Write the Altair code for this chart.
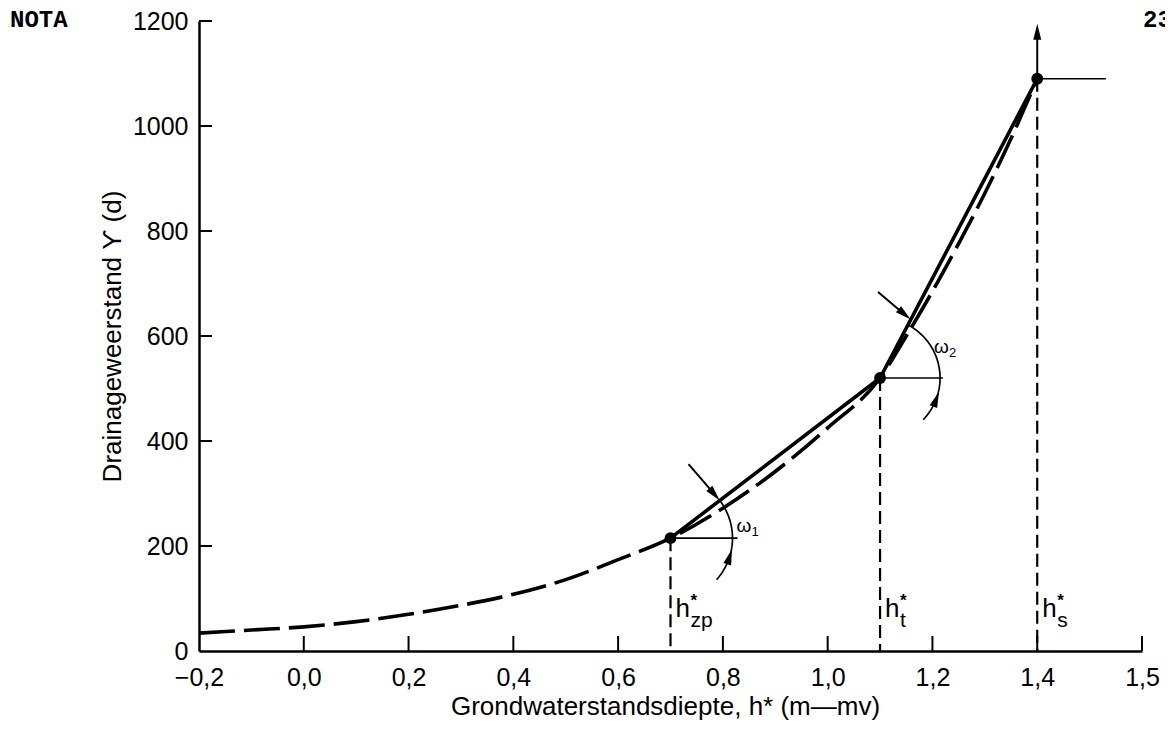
import math
import numpy as np
import pandas as pd
import altair as alt

# ---------------- data ----------------
curve_x = [-0.2, -0.1, 0.0, 0.1, 0.2, 0.3, 0.4, 0.5, 0.6, 0.7, 0.8, 0.9, 1.0,
           1.1, 1.15, 1.2, 1.25, 1.3, 1.35, 1.4]
curve_y = [34, 40, 46, 56, 70, 87, 108, 136, 174, 215, 272, 342, 425,
           520, 600, 685, 776, 872, 976, 1090]

point_x = [0.7, 1.1, 1.4]
point_y = [215, 520, 1090]
point_sub = ["zp", "t", "s"]
hline_end_x = [0.828, 1.22, 1.531]
top_arrow_tip_y = 1195

x_tick_values = [-0.2, 0.0, 0.2, 0.4, 0.6, 0.8, 1.0, 1.2, 1.4, 1.6]
x_tick_labels = ["−0,2", "0,0", "0,2", "0,4", "0,6", "0,8", "1,0", "1,2", "1,4", "1,5"]
y_tick_values = [0, 200, 400, 600, 800, 1000, 1200]

x_title = "Grondwaterstandsdiepte, h* (m—mv)"
y_title = "Drainageweerstand ϒ (d)"
corner_left = "NOTA"
corner_right = "23"
omega_names = ["1", "2"]

# ---------------- layout / style ----------------
TOP = 13
W, H = 943, 630
XMIN, XMAX = -0.2, 1.6
YMIN, YMAX = 0, 1200
PXX = W / (XMAX - XMIN)
PXY = H / (YMAX - YMIN)
FONT = "Liberation Sans"
HEAD_LEN = 16
HEAD_SHAPE = "M0,-1L0.5,1L-0.5,1Z"

xscale = alt.Scale(domain=[XMIN, XMAX], nice=False, zero=False)
yscale = alt.Scale(domain=[YMIN, YMAX], nice=False, zero=False)

label_expr = "''"
for v, l in reversed(list(zip(x_tick_values, x_tick_labels))):
    label_expr = f"abs(datum.value - ({v})) < 1e-6 ? '{l}' : ({label_expr})"

common_axis = dict(ticks=False, tickSize=0, grid=False, domainColor="black",
                   domainWidth=2.5, labelFont=FONT, labelFontSize=25,
                   labelColor="black", labelFlush=False, labelOverlap=False,
                   titleFont=FONT, titleFontSize=26, titleFontWeight="normal",
                   titleColor="black", titleAlign="center",
                   titleBaseline="alphabetic")
xaxis = alt.Axis(values=x_tick_values, labelExpr=label_expr, title=x_title,
                 labelPadding=14, titleX=466, titleY=63, **common_axis)
yaxis = alt.Axis(values=y_tick_values, labelExpr="format(datum.value, 'd')",
                 title=y_title, labelPadding=11,
                 titleX=-79, titleY=H / 2, titleAngle=270, **common_axis)


def X(f):
    return alt.X(f, type="quantitative", scale=xscale, axis=xaxis)


def Y(f):
    return alt.Y(f, type="quantitative", scale=yscale, axis=yaxis)


def px_to_data(cx, cy, dxp, dyp):
    return cx + dxp / PXX, cy + dyp / PXY


curve_df = pd.DataFrame({"x": curve_x, "y": curve_y})
points_df = pd.DataFrame({"x": point_x, "y": point_y, "x_end": hline_end_x,
                          "sub": point_sub, "zero": [0] * len(point_x)})

# ---------------- angle annotations (geometry in px around the points) ----
angle_ann = [
    dict(c=0, r=62, end=-42, tail=(18, 74), tip_r=62, low_tip=-10, lab=(66, 12)),
    dict(c=1, r=60, end=-44, tail=(-2, 86), tip_r=66, low_tip=-13, lab=(54, 31)),
]
arc_rows, tail_rows, head_rows, omega_rows = [], [], [], []
for k, a in enumerate(angle_ann):
    c = a["c"]
    cx, cy = point_x[c], point_y[c]
    chord = math.degrees(math.atan2((point_y[c + 1] - cy) * PXY,
                                    (point_x[c + 1] - cx) * PXX))
    for j, ang in enumerate(np.linspace(chord, a["end"], 50)):
        px, py = px_to_data(cx, cy, a["r"] * math.cos(math.radians(ang)),
                            a["r"] * math.sin(math.radians(ang)))
        arc_rows.append({"x": px, "y": py, "arc": k, "k": j})
    # top arrow pointing at the intersection of arc and chord
    tipx = a["tip_r"] * math.cos(math.radians(chord))
    tipy = a["tip_r"] * math.sin(math.radians(chord))
    dx, dy = tipx - a["tail"][0], tipy - a["tail"][1]
    n = math.hypot(dx, dy)
    hcx, hcy = tipx - dx / n * HEAD_LEN / 2, tipy - dy / n * HEAD_LEN / 2
    x1, y1 = px_to_data(cx, cy, *a["tail"])
    x2, y2 = px_to_data(cx, cy, hcx, hcy)
    tail_rows.append({"x": x1, "y": y1, "x2": x2, "y2": y2})
    head_rows.append({"x": x2, "y": y2,
                      "ang": math.degrees(math.atan2(dx, dy)) % 360})
    # lower arrow head on the arc (pointing counter-clockwise)
    phic = a["low_tip"] - math.degrees(HEAD_LEN / 2 / a["r"])
    hx, hy = px_to_data(cx, cy, a["r"] * math.cos(math.radians(phic)),
                        a["r"] * math.sin(math.radians(phic)))
    head_rows.append({"x": hx, "y": hy, "ang": (-phic) % 360})
    ox, oy = px_to_data(cx, cy, *a["lab"])
    omega_rows.append({"x": ox, "y": oy, "n": omega_names[k]})

# vertical arrow at the last point
vy_head = top_arrow_tip_y - HEAD_LEN / 2 / PXY
head_rows.append({"x": point_x[-1], "y": vy_head, "ang": 0})
tail_rows.append({"x": point_x[-1], "y": point_y[-1], "x2": point_x[-1], "y2": vy_head})

arc_df = pd.DataFrame(arc_rows)
tail_df = pd.DataFrame(tail_rows)
head_df = pd.DataFrame(head_rows)
omega_df = pd.DataFrame(omega_rows)

# ---------------- layers ----------------
curve = alt.Chart(curve_df).mark_line(
    color="black", strokeWidth=3.6, strokeDash=[36, 9], interpolate="monotone"
).encode(x=X("x"), y=Y("y"))

chord = alt.Chart(points_df).mark_line(color="black", strokeWidth=3.6).encode(
    x=X("x"), y=Y("y"))

vdash = alt.Chart(points_df).mark_rule(
    color="black", strokeWidth=2.2, strokeDash=[13, 6]
).encode(x=X("x"), y=Y("y"), y2=alt.Y2("zero"))

hline = alt.Chart(points_df).mark_rule(color="black", strokeWidth=1.6).encode(
    x=X("x"), x2=alt.X2("x_end"), y=Y("y"))

dots = alt.Chart(points_df).mark_circle(size=140, color="black", opacity=1).encode(
    x=X("x"), y=Y("y"))

arcs = alt.Chart(arc_df).mark_line(color="black", strokeWidth=1.7).encode(
    x=X("x"), y=Y("y"), detail="arc:N", order="k:Q")

tails = alt.Chart(tail_df).mark_rule(color="black", strokeWidth=2).encode(
    x=X("x"), y=Y("y"), x2=alt.X2("x2"), y2=alt.Y2("y2"))

heads = alt.Chart(head_df).mark_point(
    shape=HEAD_SHAPE, filled=True, size=HEAD_LEN ** 2, color="black",
    opacity=1, strokeWidth=0
).encode(x=X("x"), y=Y("y"), angle=alt.Angle("ang:Q", scale=None))

xticks = alt.Chart(pd.DataFrame({"v": x_tick_values[1:]})).mark_rule(
    color="black", strokeWidth=2).encode(
    x=X("v"), y=alt.value(H), y2=alt.value(H - 15))

yticks = alt.Chart(pd.DataFrame({"v": y_tick_values[1:]})).mark_rule(
    color="black", strokeWidth=2).encode(
    y=Y("v"), x=alt.value(0), x2=alt.value(13))

h_main = alt.Chart(points_df).mark_text(
    font=FONT, fontSize=26, align="left", baseline="alphabetic", dx=5,
    color="black").encode(x=X("x"), y=alt.value(H - 34), text=alt.value("h"))
h_star = alt.Chart(points_df).mark_text(
    font=FONT, fontSize=17, align="left", baseline="alphabetic", dx=20,
    color="black", fontWeight="bold").encode(x=X("x"), y=alt.value(H - 45), text=alt.value("*"))
h_sub = alt.Chart(points_df).mark_text(
    font=FONT, fontSize=21, align="left", baseline="alphabetic", dx=20,
    color="black").encode(x=X("x"), y=alt.value(H - 24), text="sub:N")

omega = alt.Chart(omega_df).mark_text(
    font=FONT, fontSize=19, align="left", baseline="middle",
    color="black").encode(x=X("x"), y=Y("y"), text=alt.value("ω"))
omega_sub = alt.Chart(omega_df).mark_text(
    font=FONT, fontSize=13, align="left", baseline="middle", dx=15, dy=6,
    color="black").encode(x=X("x"), y=Y("y"), text="n:N")

corner_l = alt.Chart(pd.DataFrame({"t": [corner_left]})).mark_text(
    font="Liberation Mono", fontSize=24, fontWeight="bold", align="left",
    baseline="alphabetic", color="black").encode(
    x=alt.value(-189), y=alt.value(6), text="t:N")
corner_r = alt.Chart(pd.DataFrame({"t": [corner_right]})).mark_text(
    font="Liberation Mono", fontSize=24, fontWeight="bold", align="left",
    baseline="alphabetic", color="black").encode(
    x=alt.value(944), y=alt.value(6), text="t:N")

chart = alt.layer(
    curve, chord, vdash, hline, arcs, tails, heads, dots, xticks, yticks,
    h_main, h_star, h_sub, omega, omega_sub, corner_l, corner_r
).properties(
    width=W, height=H,
    padding={"left": 191, "top": TOP, "right": 23, "bottom": 69},
    autosize=alt.AutoSizeParams(type="none"),
    background="white",
).configure_view(stroke=None)

chart.save("out.html", embed_options={"renderer": "svg", "actions": False})
